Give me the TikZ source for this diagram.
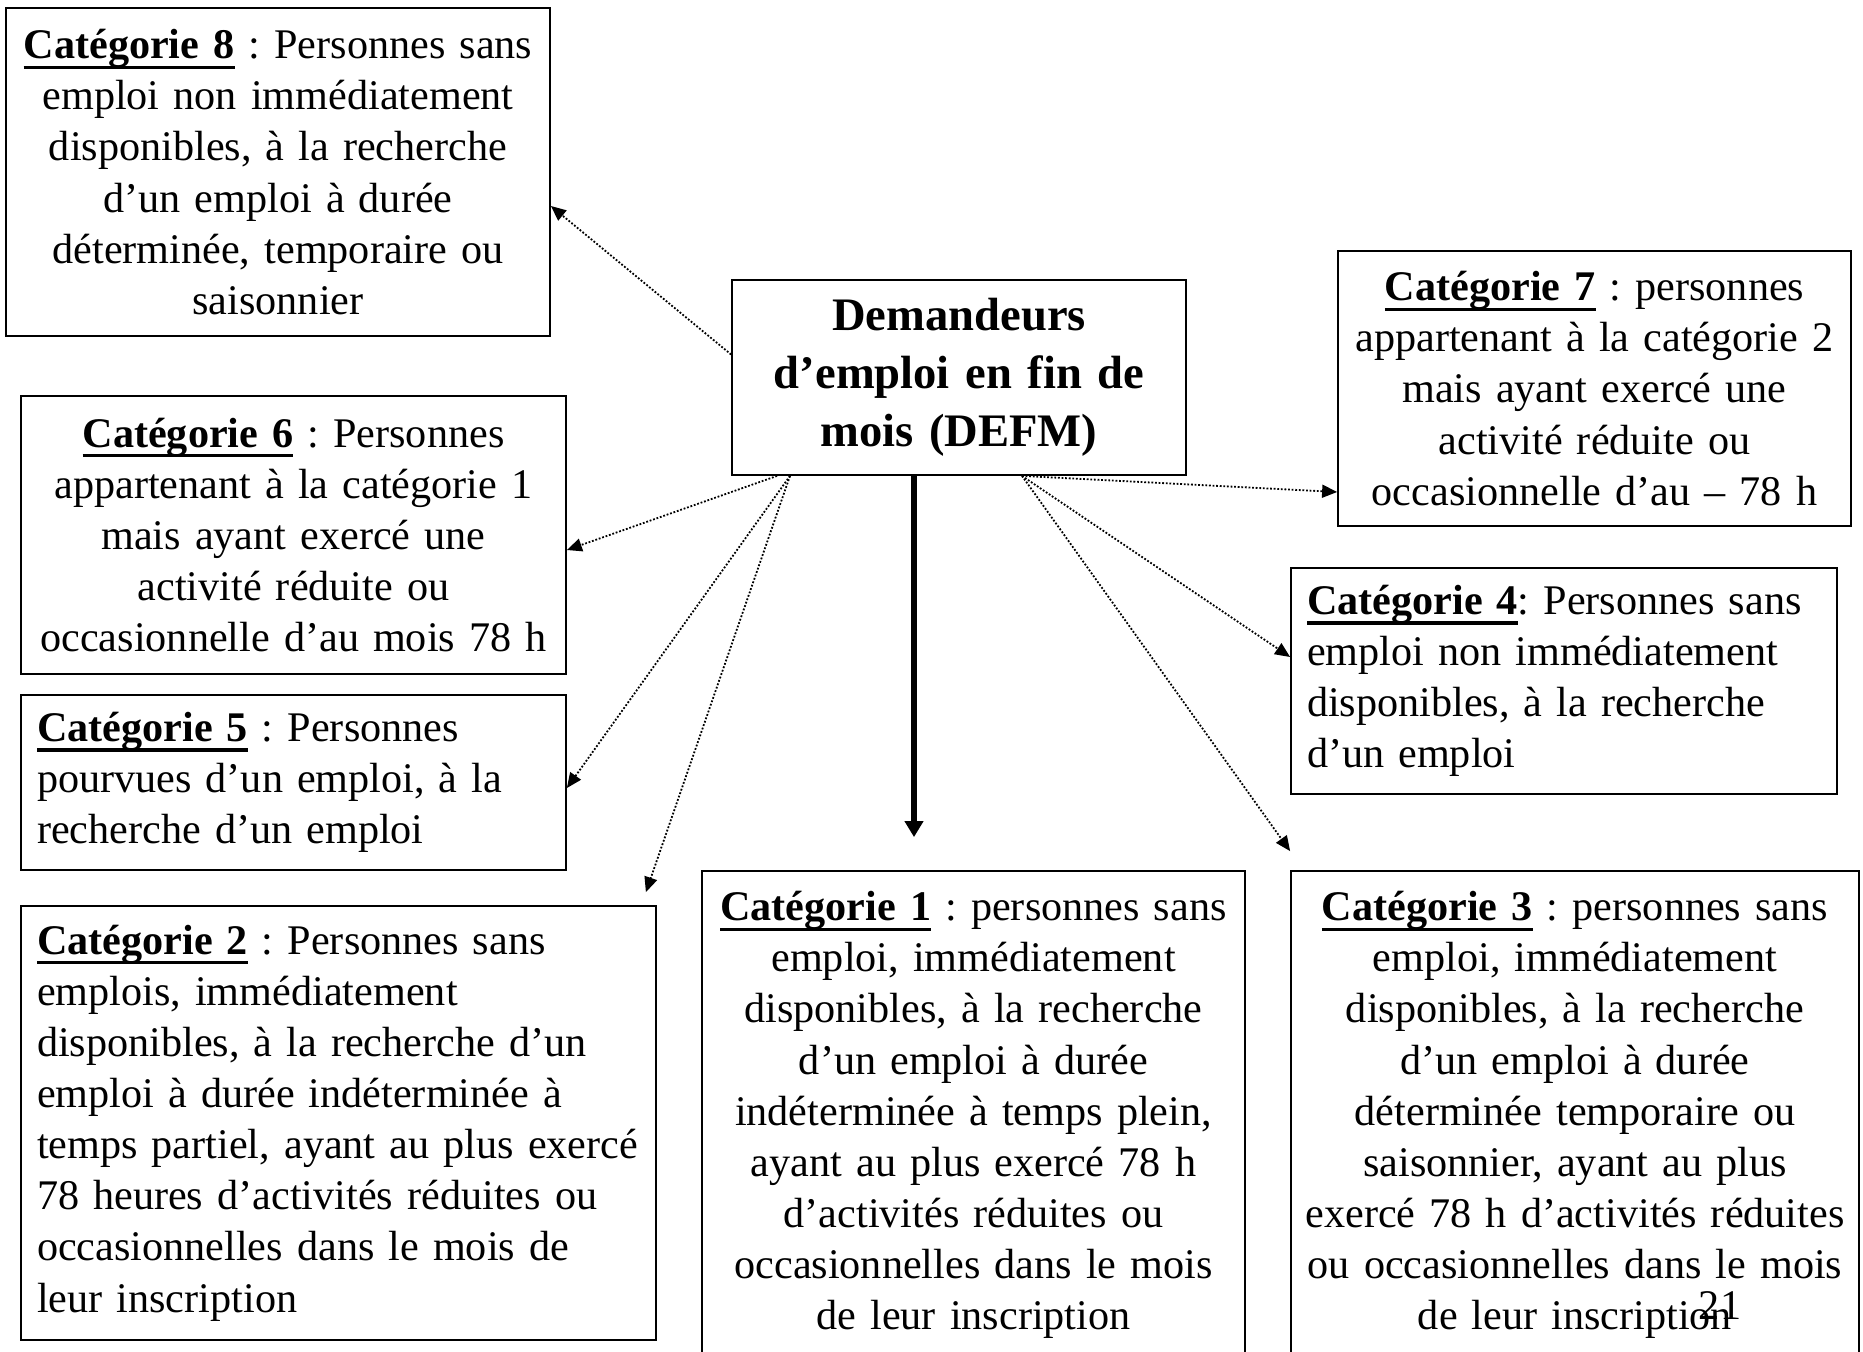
\documentclass[tikz,border=0pt]{standalone}
\usepackage{fontspec}
\setmainfont{Liberation Serif}
\usetikzlibrary{arrows.meta}
\hyphenpenalty=10000
\frenchspacing
\newcommand{\cattitre}[1]{\leavevmode\setbox0\hbox{\bfseries Catégorie #1}\rlap{\rule[-5pt]{\wd0}{1.6pt}}\box0\relax}

\begin{document}
\begin{tikzpicture}[x=0.5pt, y=-0.5pt,
  cat/.style={draw, line width=0.9pt, inner xsep=8pt, inner ysep=0pt,
    font=\fontsize{21.1pt}{25.55pt}\selectfont},
  pointille/.style={line width=0.9pt, dash pattern=on 0.9pt off 0.9pt,
    -{Triangle[length=7.5pt,width=6.5pt]}},
  fleche/.style={line width=2.6pt, -{Triangle[length=8pt,width=9pt]}}]
  \useasboundingbox (0,0) rectangle (1863,1351);

  \node[cat, align=center, text width=211pt, minimum height=97.5pt,
    font=\fontsize{23.3pt}{29pt}\selectfont\bfseries] (defm) at (959,377.5)
    {Demandeurs\\ d’emploi en fin de\\ mois (DEFM)};

  \node[cat, align=center, text width=256pt, minimum height=164pt] (c8) at (278,172)
    {\cattitre{8} : Personnes sans\\ emploi non immédiatement\\ disponibles, à la recherche\\
     d’un emploi à durée\\ déterminée, temporaire ou\\ saisonnier};
  \node[cat, align=center, text width=240.5pt, minimum height=137.5pt] (c7) at (1594.5,388.5)
    {\cattitre{7} : personnes\\ appartenant à la catégorie 2\\ mais ayant exercé une\\
     activité réduite ou\\ occasionnelle d’au – 78 h};
  \node[cat, align=center, text width=256.5pt, minimum height=139pt] (c6) at (293.5,535)
    {\cattitre{6} : Personnes\\ appartenant à la catégorie 1\\ mais ayant exercé une\\
     activité réduite ou\\ occasionnelle d’au mois 78 h};
  \node[cat, align=left, text width=257pt, minimum height=113pt] (c4) at (1564,681)
    {\cattitre{4}: Personnes sans\\ emploi non immédiatement\\ disponibles, à la recherche\\
     d’un emploi};
  \node[cat, align=left, text width=256.5pt, minimum height=87.5pt] (c5) at (293.5,782.5)
    {\cattitre{5} : Personnes\\ pourvues d’un emploi, à la\\ recherche d’un emploi};
  \node[cat, align=left, text width=301.5pt, minimum height=217pt] (c2) at (338.5,1123)
    {\cattitre{2} : Personnes sans\\ emplois, immédiatement\\ disponibles, à la recherche d’un\\
     emploi à durée indéterminée à\\ temps partiel, ayant au plus exercé\\
     78 heures d’activités réduites ou\\ occasionnelles dans le mois de\\ leur inscription};
  \node[cat, align=center, text width=255.5pt, minimum height=244pt] (c1) at (973.5,1115)
    {\cattitre{1} : personnes sans\\ emploi, immédiatement\\ disponibles, à la recherche\\
     d’un emploi à durée\\ indéterminée à temps plein,\\ ayant au plus exercé 78 h\\
     d’activités réduites ou\\ occasionnelles dans le mois\\ de leur inscription};
  \node[cat, align=center, inner xsep=4pt, text width=276pt, minimum height=244pt] (c3) at (1575,1115)
    {\cattitre{3} : personnes sans\\ emploi, immédiatement\\ disponibles, à la recherche\\
     d’un emploi à durée\\ déterminée temporaire ou\\ saisonnier, ayant au plus\\
     exercé 78 h d’activités réduites\\ ou occasionnelles dans le mois\\ de leur inscription};

  \node[font=\fontsize{21.1pt}{25.55pt}\selectfont, anchor=base, inner sep=0pt] (pnum) at (1720,1319) {21};

  \path[pointille]
  ([yshift=11.5pt]defm.west) edge ([yshift=-17pt]c8.east)
  ([xshift=-91pt]defm.south) edge ([yshift=-7.5pt]c6.east)
  ([xshift=-84.5pt]defm.south) edge ([yshift=-2.75pt]c5.east)
  ([xshift=-84.5pt]defm.south) edge ([xshift=-5.5pt,yshift=6.5pt]c2.north east)
  ([xshift=31.5pt]defm.south) edge ([yshift=-51.75pt]c7.west)
  ([xshift=31.5pt]defm.south) edge ([yshift=12pt]c4.west)
  ([xshift=31.5pt]defm.south) edge ([yshift=9.5pt]c3.north west);
  \draw[fleche] ([xshift=-22.5pt]defm.south) -- ([xshift=-29.75pt,yshift=16.5pt]c1.north);
\end{tikzpicture}
\end{document}
